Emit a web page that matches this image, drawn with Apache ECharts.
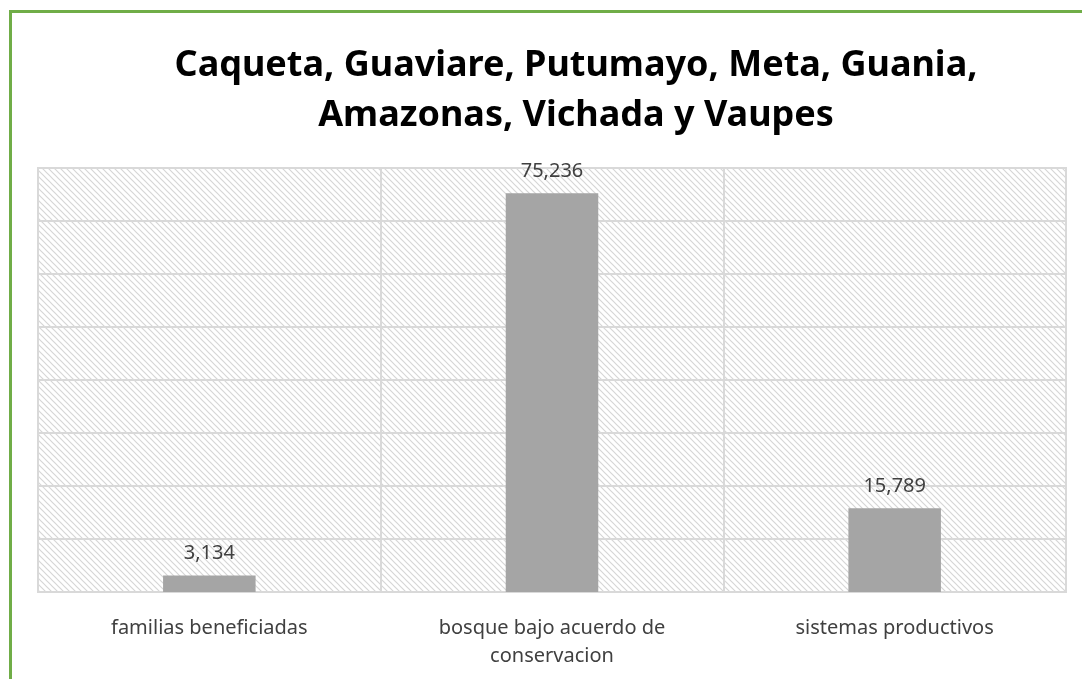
<!DOCTYPE html>
<html>
<head>
<meta charset="utf-8">
<script src="https://cdn.jsdelivr.net/npm/echarts@6/dist/echarts.min.js"></script>
<style>
html,body{margin:0;padding:0;background:#fff;overflow:hidden;}
#frame{position:absolute;left:9px;top:10px;width:1200px;height:800px;border-left:3px solid #70AD47;border-top:3px solid #70AD47;box-sizing:border-box;}
#chart{position:absolute;left:0;top:0;width:1082px;height:679px;}
</style>
</head>
<body>
<div id="frame"></div>
<div id="chart"></div>
<script>
const titleLines = ['Caqueta, Guaviare, Putumayo, Meta, Guania,', 'Amazonas, Vichada y Vaupes'];
const categories = ['familias beneficiadas', 'bosque bajo acuerdo de\nconservacion', 'sistemas productivos'];
const values = [3134, 75236, 15789];
const yMax = 80000;
const yInterval = 10000;

// hatch pattern
const pc = document.createElement('canvas');
pc.width = 6; pc.height = 6;
const g = pc.getContext('2d');
g.fillStyle = '#ffffff';
g.fillRect(0, 0, 6, 6);
g.strokeStyle = '#d6d6d6';
g.lineWidth = 1.2;
g.beginPath();
g.moveTo(-1, -1); g.lineTo(7, 7);
g.moveTo(-1, 5); g.lineTo(1, 7);
g.moveTo(5, -1); g.lineTo(7, 1);
g.stroke();

const chart = echarts.init(document.getElementById('chart'), null, {renderer: 'canvas'});
chart.setOption({
  animation: false,
  backgroundColor: 'transparent',
  title: {
    text: titleLines.join('\n'),
    left: 571,
    top: 36,
    textAlign: 'center',
    textStyle: {
      fontFamily: 'Noto Sans',
      fontWeight: 'bold',
      fontSize: 36,
      lineHeight: 50,
      color: '#000000'
    }
  },
  grid: {
    left: 38, top: 168, right: 16, bottom: 87,
    show: true,
    backgroundColor: {image: pc, repeat: 'repeat'},
    borderColor: '#d9d9d9',
    borderWidth: 2
  },
  xAxis: {
    type: 'category',
    data: categories,
    axisLine: {show: true, lineStyle: {color: '#d9d9d9', width: 2}},
    axisTick: {show: false},
    splitLine: {show: true, lineStyle: {color: '#d9d9d9', width: 2}},
    axisLabel: {
      interval: 0,
      margin: 22,
      fontFamily: 'Noto Sans',
      fontSize: 20,
      lineHeight: 28,
      color: '#404040'
    }
  },
  yAxis: {
    type: 'value',
    min: 0,
    max: yMax,
    interval: yInterval,
    axisLabel: {show: false},
    axisLine: {show: false},
    axisTick: {show: false},
    splitLine: {show: true, lineStyle: {color: '#d9d9d9', width: 2}}
  },
  series: [{
    type: 'bar',
    data: values,
    barWidth: '27%',
    itemStyle: {color: '#a5a5a5'},
    label: {
      show: true,
      position: 'top',
      distance: 12,
      fontFamily: 'Noto Sans',
      fontSize: 20,
      color: '#404040',
      formatter: p => p.value.toLocaleString('en-US')
    }
  }]
});
</script>
</body>
</html>
